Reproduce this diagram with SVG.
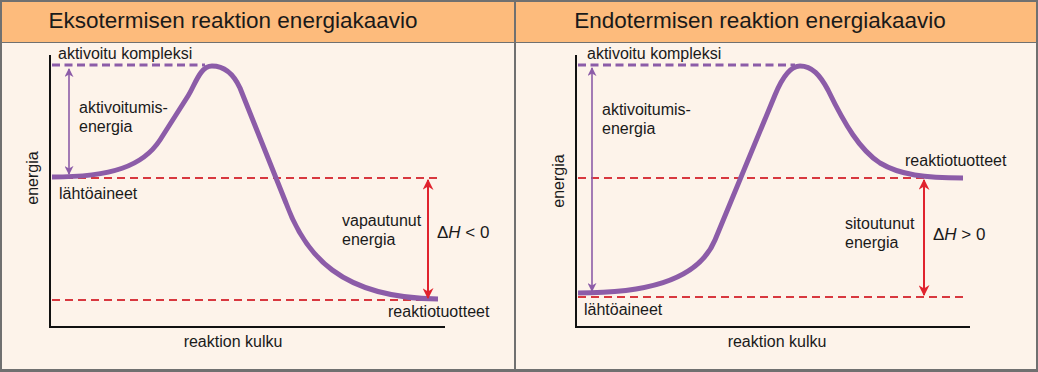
<svg xmlns="http://www.w3.org/2000/svg" width="1038" height="372" viewBox="0 0 1038 372">
<defs>
<marker id="ap" viewBox="0 0 10 10" refX="9" refY="5" markerWidth="9" markerHeight="9" markerUnits="userSpaceOnUse" orient="auto-start-reverse"><path d="M0,0 L10,5 L0,10 L3,5 Z" fill="#8c5ca8"/></marker>
<marker id="ar" viewBox="0 0 10 10" refX="9" refY="5" markerWidth="11" markerHeight="11" markerUnits="userSpaceOnUse" orient="auto-start-reverse"><path d="M0,0 L10,5 L0,10 L3,5 Z" fill="#e0232e"/></marker>
</defs>
<style>
.t{font-family:"Liberation Sans",Arial,sans-serif;fill:#1a1a1a}
.title{font-size:22.5px;text-anchor:middle}
.lb{font-size:16px}
.dh{font-size:17px}
.axis{stroke:#111;stroke-width:2;fill:none}
.curve{stroke:#8c5ca8;stroke-width:5;fill:none;stroke-linecap:butt;stroke-linejoin:round}
.pd{stroke:#8c5ca8;stroke-width:3;stroke-dasharray:8 4.5;fill:none}
.rd{stroke:#d8383f;stroke-width:2;stroke-dasharray:8 5;fill:none}
.pa{stroke:#8c5ca8;stroke-width:1.6;fill:none}
.ra{stroke:#e0232e;stroke-width:2;fill:none}
</style>
<rect x="0" y="0" width="1038" height="372" fill="#707070"/>
<rect x="2" y="2" width="512" height="40" fill="#fdbb7c"/>
<rect x="516" y="2" width="520" height="40" fill="#fdbb7c"/>
<rect x="2" y="43" width="512" height="326" fill="#fdf3ea"/>
<rect x="516" y="43" width="520" height="326" fill="#fdf3ea"/>

<g id="exo-panel">
<text class="t title" x="233" y="28">Eksotermisen reaktion energiakaavio</text>
<g id="exo-axes">
<path class="axis" d="M50,55 L50,327 L445,327"/>
<text class="t lb" transform="translate(38,178) rotate(-90)" text-anchor="middle">energia</text>
<text class="t lb" x="233" y="347" text-anchor="middle">reaktion kulku</text>
</g>
<g id="exo-levels">
<path class="pd" d="M52,65 L205,65"/>
<path class="rd" d="M52,178 L438,178"/>
<path class="rd" d="M52,300 L438,300"/>
</g>
<g id="exo-curve"><path class="curve" d="M52,177 C112,177 143,166 160,140 L188,96 C195,85 200,66 212,66 C226,66 234,75 240,88 L286,203 C305,255 340,298 438,299"/></g>
<g id="exo-labels">
<text class="t lb" x="58" y="59">aktivoitu kompleksi</text>
<text class="t lb" x="79" y="113">aktivoitumis-</text>
<text class="t lb" x="79" y="132">energia</text>
<text class="t lb" x="59" y="199">lähtöaineet</text>
<text class="t lb" x="342" y="226">vapautunut</text>
<text class="t lb" x="342" y="245">energia</text>
<text class="t dh" x="437" y="238">Δ<tspan font-style="italic">H</tspan> &lt; 0</text>
<text class="t lb" x="388" y="317">reaktiotuotteet</text>
</g>
</g>

<g id="endo-panel">
<text class="t title" x="760" y="28">Endotermisen reaktion energiakaavio</text>
<g id="endo-axes">
<path class="axis" d="M576,55 L576,327 L970,327"/>
<text class="t lb" transform="translate(564,181) rotate(-90)" text-anchor="middle">energia</text>
<text class="t lb" x="777" y="347" text-anchor="middle">reaktion kulku</text>
</g>
<g id="endo-levels">
<path class="pd" d="M578,65 L795,65"/>
<path class="rd" d="M578,178 L963,178"/>
<path class="rd" d="M578,297 L963,297"/>
</g>
<g id="endo-curve"><path class="curve" d="M578,293 C640,293 697,283 715,240 L775,95 C782,78 790,66 800,66 C812,66 820,75 828,90 C845,125 860,150 880,163 C900,175 925,178 963,178"/></g>
<g id="endo-labels">
<text class="t lb" x="587" y="59">aktivoitu kompleksi</text>
<text class="t lb" x="602" y="115">aktivoitumis-</text>
<text class="t lb" x="602" y="134">energia</text>
<text class="t lb" x="584" y="315">lähtöaineet</text>
<text class="t lb" x="845" y="229">sitoutunut</text>
<text class="t lb" x="845" y="248">energia</text>
<text class="t dh" x="933" y="240">Δ<tspan font-style="italic">H</tspan> &gt; 0</text>
<text class="t lb" x="905" y="166">reaktiotuotteet</text>
</g>
</g>

<g id="connectors">
<line class="pa" x1="69" y1="69" x2="69" y2="174" marker-start="url(#ap)" marker-end="url(#ap)"/>
<line class="ra" x1="428" y1="180" x2="428" y2="298" marker-start="url(#ar)" marker-end="url(#ar)"/>
<line class="pa" x1="592" y1="68" x2="592" y2="291" marker-start="url(#ap)" marker-end="url(#ap)"/>
<line class="ra" x1="924" y1="180" x2="924" y2="295" marker-start="url(#ar)" marker-end="url(#ar)"/>
</g>
</svg>
